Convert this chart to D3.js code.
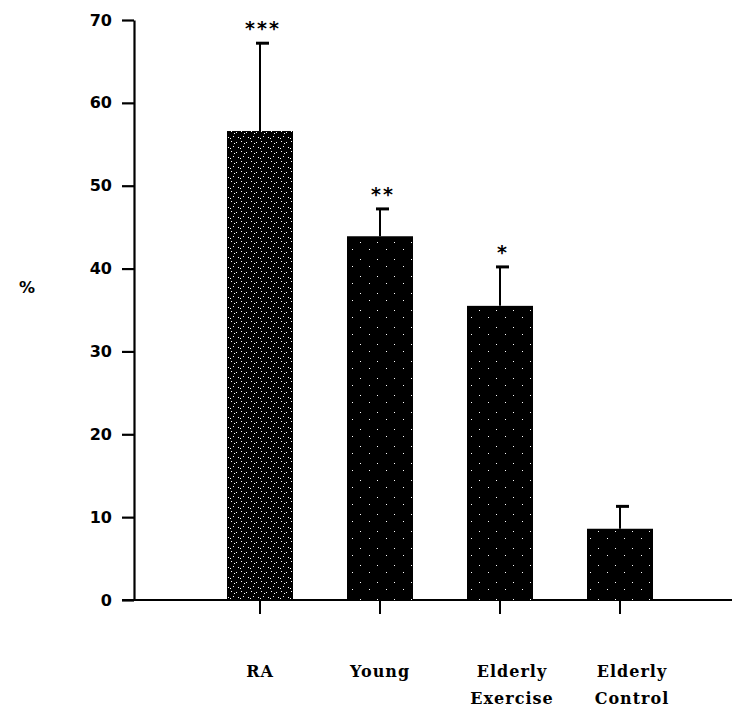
<!DOCTYPE html>
<html>
<head>
<meta charset="utf-8">
<script src="https://cdn.jsdelivr.net/npm/d3@7"></script>
<style>
  body { margin: 0; background: #fff; }
  svg { display: block; }
</style>
</head>
<body>
<div id="chart"></div>
<script>
// DATA
var groups = ["RA", "Young", "Elderly Exercise", "Elderly Control"];
var means = [56.6, 43.9, 35.5, 8.6];
var errTop = [67.2, 47.2, 40.2, 11.3];
var stars = ["***", "**", "*", ""];
var yTicks = [0, 10, 20, 30, 40, 50, 60, 70];

// SIZING
var W = 732, H = 710;
var axisX = 134, zeroY = 600, topY = 20;

var svg = d3.select("#chart").append("svg")
    .attr("width", W).attr("height", H);

// stipple patterns (white dots on black)
var defs = svg.append("defs");
function stipple(id, size, dots) {
    var p = defs.append("pattern").attr("id", id)
        .attr("patternUnits", "userSpaceOnUse")
        .attr("width", size).attr("height", size);
    p.append("rect").attr("width", size).attr("height", size).attr("fill", "#000");
    dots.forEach(function (d) {
        p.append("rect").attr("x", d[0]).attr("y", d[1])
            .attr("width", 1).attr("height", 1).attr("fill", "#fff");
    });
}
stipple("dense", 10, [[1, 1], [6, 2], [3, 6], [8, 7], [0, 8], [4, 3]]);
stipple("sparse", 17, [[3, 4], [12, 11]]);

var y = d3.scaleLinear().domain([0, 70]).range([zeroY, topY]);
var x = d3.scaleBand().domain(groups).range([200, 680])
    .paddingInner(0.45).paddingOuter(0.225);

// Y AXIS
var yAxis = svg.append("g")
    .attr("transform", "translate(" + axisX + ",0)")
    .call(d3.axisLeft(y).tickValues(yTicks).tickSize(12).tickSizeOuter(0).tickPadding(10));
yAxis.select(".domain").attr("stroke-width", 2.2);
yAxis.selectAll(".tick line").attr("stroke-width", 2.2);
yAxis.selectAll(".tick text")
    .style("font-family", "DejaVu Sans")
    .style("font-weight", "bold")
    .style("font-size", "16px")
    .attr("fill", "#000");

// X AXIS line + ticks
svg.append("line")
    .attr("x1", 122).attr("x2", W)
    .attr("y1", zeroY).attr("y2", zeroY)
    .attr("stroke", "#000").attr("stroke-width", 2.2);

var cx = function (d) { return x(d) + x.bandwidth() / 2; };

svg.selectAll(".xtick").data(groups).enter().append("line")
    .attr("x1", cx).attr("x2", cx)
    .attr("y1", zeroY).attr("y2", zeroY + 14)
    .attr("stroke", "#000").attr("stroke-width", 2);

// BARS
svg.selectAll(".bar").data(groups).enter().append("rect")
    .attr("x", function (d) { return x(d); })
    .attr("width", x.bandwidth())
    .attr("y", function (d, i) { return y(means[i]); })
    .attr("height", function (d, i) { return zeroY - y(means[i]); })
    .attr("fill", function (d, i) { return i == 0 ? "url(#dense)" : "url(#sparse)"; });

// ERROR BARS
svg.selectAll(".err").data(groups).enter().append("line")
    .attr("x1", cx).attr("x2", cx)
    .attr("y1", function (d, i) { return y(means[i]); })
    .attr("y2", function (d, i) { return y(errTop[i]); })
    .attr("stroke", "#000").attr("stroke-width", 2);
svg.selectAll(".cap").data(groups).enter().append("line")
    .attr("x1", function (d) { return cx(d) - 4; })
    .attr("x2", function (d) { return cx(d) + 9; })
    .attr("y1", function (d, i) { return y(errTop[i]); })
    .attr("y2", function (d, i) { return y(errTop[i]); })
    .attr("stroke", "#000").attr("stroke-width", 3);

// STARS
svg.selectAll(".star").data(groups).enter().append("text")
    .attr("x", function (d) { return cx(d) + 3; })
    .attr("y", function (d, i) { return y(errTop[i]) - 8; })
    .attr("text-anchor", "middle")
    .style("font-family", "DejaVu Sans")
    .style("font-weight", "bold")
    .style("font-size", "19px")
    .style("letter-spacing", "2px")
    .text(function (d, i) { return stars[i]; });

// CATEGORY LABELS
var lab = svg.selectAll(".lab").data(groups).enter().append("text")
    .attr("text-anchor", "middle")
    .style("font-family", "DejaVu Serif")
    .style("font-weight", "bold")
    .style("font-size", "16px")
    .style("letter-spacing", "1px");
lab.each(function (d) {
    var words = d.split(" ");
    var t = d3.select(this);
    words.forEach(function (w, k) {
        t.append("tspan")
            .attr("x", cx(d) + (words.length > 1 ? 12 : 0))
            .attr("y", 677 + k * 27)
            .text(w);
    });
});

// Y LABEL
svg.append("text")
    .attr("x", 27).attr("y", 293)
    .attr("text-anchor", "middle")
    .style("font-family", "DejaVu Sans")
    .style("font-weight", "bold")
    .style("font-size", "16px")
    .text("%");
</script>
</body>
</html>
